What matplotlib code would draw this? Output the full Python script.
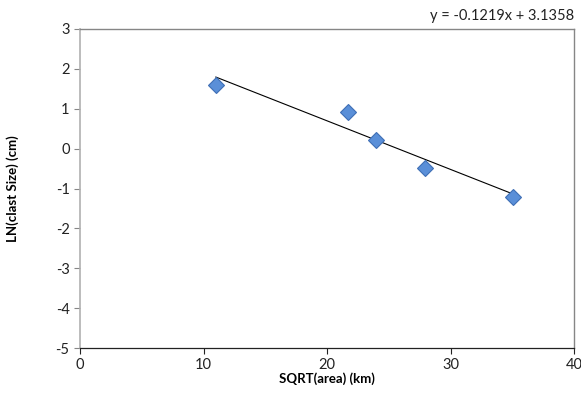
import matplotlib.pyplot as plt
from matplotlib import rcParams

rcParams["font.family"] = ["Lato", "DejaVu Sans"]
rcParams["axes.unicode_minus"] = False

# Datos
sqrt_area = [11.0, 21.7, 24.0, 27.9, 35.1]
ln_clast = [1.60, 0.92, 0.22, -0.48, -1.22]

# Línea de tendencia (ecuación mostrada)
slope = -0.1219
intercept = 3.1358
eq_label = "y = -0.1219x + 3.1358"

x_ticks = [0, 10, 20, 30, 40]
y_ticks = [-5, -4, -3, -2, -1, 0, 1, 2, 3]

fig = plt.figure(figsize=(5.81, 3.94), dpi=100)
ax = fig.add_axes([80 / 581, 1 - 348 / 394, 494 / 581, 319 / 394])

x0, x1 = min(sqrt_area), max(sqrt_area)
ax.plot([x0, x1], [slope * x0 + intercept, slope * x1 + intercept],
        color="black", lw=0.8, zorder=2)
ax.plot(sqrt_area, ln_clast, ls="none", marker="D", markersize=8.5,
        markerfacecolor="#5a8fd8", markeredgecolor="#3f6fb5", markeredgewidth=0.8,
        zorder=3)

ax.set_xlim(0, 40)
ax.set_ylim(-5, 3)
ax.set_xticks(x_ticks)
ax.set_yticks(y_ticks)
ax.tick_params(axis="both", direction="out", length=4, width=0.8,
               color="#868686", labelsize=10.5, labelcolor="#222222")
ax.tick_params(axis="x", color="#222222")

for s in ("top", "right"):
    ax.spines[s].set_color("#868686")
    ax.spines[s].set_linewidth(1.0)
ax.spines["left"].set_color("#b0b0b0")
ax.spines["left"].set_linewidth(1.2)
ax.spines["bottom"].set_color("#222222")
ax.spines["bottom"].set_linewidth(0.9)

ax.set_xlabel("SQRT(area) (km)", fontsize=9.5, weight="bold", labelpad=0)
ax.set_ylabel("LN(clast Size) (cm)", fontsize=9.5, weight="bold", labelpad=26)

fig.text(574 / 581, 1 - 16 / 394, eq_label, ha="right", va="center",
         fontsize=10.5, color="#222222")

fig.savefig("out.png", dpi=100)
